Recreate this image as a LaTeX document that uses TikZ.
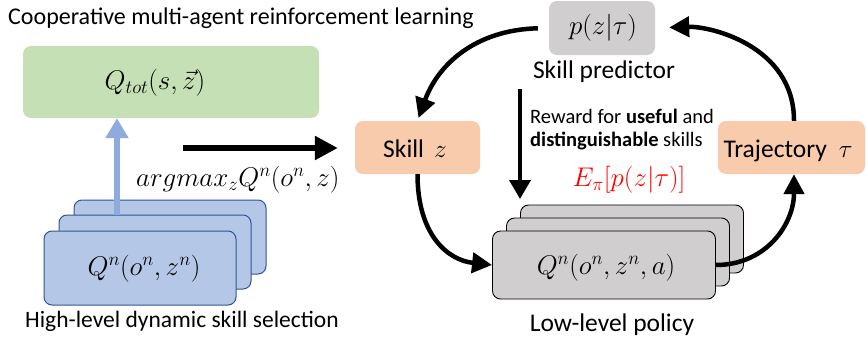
\RequirePackage{fix-cm}
\documentclass[tikz,border=0pt]{standalone}
\usepackage{fontspec}
\setmainfont{Carlito}
\usetikzlibrary{arrows.meta}
\definecolor{grn}{HTML}{C5E0B4}
\definecolor{blu}{HTML}{B4C7E7}
\definecolor{bluedge}{HTML}{2F5597}
\definecolor{bluarrow}{HTML}{8FAADC}
\definecolor{org}{HTML}{F8CBAD}
\definecolor{gry}{HTML}{D0CECE}
\begin{document}
\begin{tikzpicture}[x=1pt,y=-1pt,
  rbox/.style={rounded corners=8pt, inner sep=0pt, draw=none},
  greenbox/.style={rbox, fill=grn, minimum width=296pt, minimum height=72pt},
  bluebox/.style={rbox, fill=blu, draw=bluedge, line width=1pt, minimum width=192pt, minimum height=74pt},
  graybox/.style={rbox, fill=gry, draw=black, line width=0.9pt, minimum width=223pt, minimum height=68pt},
  orangebox/.style={rbox, fill=org, minimum height=53pt},
  txt/.style={font=\fontsize{23.5}{27}\selectfont, inner sep=0pt},
  titletxt/.style={font=\fontsize{24}{28}\selectfont, inner sep=0pt},
  bigtxt/.style={font=\fontsize{25.5}{29}\selectfont, inner sep=0pt},
  smalltxt/.style={font=\fontsize{20.5}{24}\selectfont, inner sep=0pt},
  mth/.style={font=\fontsize{27}{31}\selectfont, inner sep=0pt},
  arr/.style={line width=4.5pt, -{Triangle[length=20pt,width=20pt]}},
]
\useasboundingbox (0,0) rectangle (866,343);

% title
\node[titletxt, anchor=base west] (title) at (8,24) {Cooperative multi-agent reinforcement learning};

% green box
\node[greenbox] (qtot) at (171,82) {};
\node[mth] (qtottxt) at (155,83) {$Q_{tot}(s,\vec{z})$};

% blue stack
\node[bluebox] (bback) at (170,237) {};
\node[bluebox] (bmid) at (155,252) {};
\node[bluebox] (bfront) at (140,268) {};
\node[mth] (bfronttxt) at (144,269) {$Q^{n}(o^{n},z^{n})$};
\node[txt, anchor=base west] (hlcap) at (25,327) {High-level dynamic skill selection};

% blue arrow
\coordinate (bstart) at (117,215);
\draw[line width=6pt, draw=bluarrow, -{Triangle[length=20pt,width=22pt]}] (bstart) -- (bstart |- qtot.south);

% argmax label
\node[mth, anchor=base west] (argm) at (136,186) {$argmax_{z}Q^{n}(o^{n},z)$};

% skill box
\node[orangebox, minimum width=125pt] (skill) at (417.5,147.5) {};
\node[bigtxt, anchor=base] (skilltxt) at (415,157) {Skill\hspace{10pt}$z$};

\coordinate (hstart) at (183,148);
\draw[line width=5.5pt, -{Triangle[length=23pt,width=23pt]}, shorten >=17pt] (hstart) -- (skill.west |- hstart);

% skill predictor
\node[rbox, fill=gry, minimum width=106pt, minimum height=54pt] (pz) at (602,28) {};
\node[mth] (pztxt) at (603,28) {$p(z|\tau)$};
\node[bigtxt, anchor=base] (predcap) at (604,78) {Skill predictor};

% trajectory
\node[orangebox, minimum width=147pt] (traj) at (791.5,147.5) {};
\node[bigtxt, anchor=base] (trajtxt) at (788,157) {Trajectory\hspace{12pt}$\tau$};

% reward text and vertical arrow
\node[smalltxt, anchor=base west] (rew1) at (530,123) {Reward for \textbf{useful} and};
\node[smalltxt, anchor=base west] (rew2) at (530,146) {\textbf{distinguishable} skills};
\node[mth, anchor=base, text=red] (rewmath) at (629,186) {$E_{\pi}[p(z|\tau)]$};
\coordinate (vstart) at (520,89);
\coordinate (vend) at (520,199);
\draw[line width=3.8pt, -{Triangle[length=19pt,width=21pt]}] (vstart) -- (vend);

% gray stack
\node[graybox] (gback) at (632,239) {};
\node[graybox] (gmid) at (618,252) {};
\node[graybox] (gfront) at (604,265) {};
\node[mth] (gfronttxt) at (606,268) {$Q^{n}(o^{n},z^{n},a)$};
\node[bigtxt, anchor=base] (llcap) at (612,331) {Low-level policy};

% cycle arrows
\draw[arr, shorten <=11pt, shorten >=3pt] (pz.west) .. controls +(-75,2) and +(20,-55) .. (skill.north);
\draw[arr, shorten >=14pt] (traj.north -| 794,0) .. controls +(0,-75) and +(55,-2) .. (pz.east);
\draw[arr] (skill.south) .. controls +(0,60) and +(-45,-5) .. (gfront.west);
\draw[arr] (gfront.east) .. controls +(50,0) and +(0,50) .. (traj.south -| 794,0);
\end{tikzpicture}
\end{document}
